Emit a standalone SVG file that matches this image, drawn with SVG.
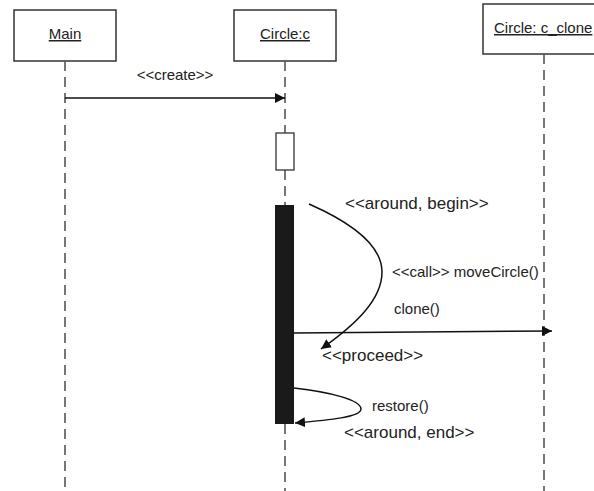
<svg xmlns="http://www.w3.org/2000/svg" width="594" height="491" viewBox="0 0 594 491">
<defs>
<style>
.box{fill:#fff;stroke:#333;stroke-width:1.5}
.life{stroke:#555;stroke-width:1.6;stroke-dasharray:10 6;fill:none}
.lbl{font-family:"Liberation Sans",Arial,sans-serif;font-size:15px;fill:#222}
.big{font-size:17px}
.name{text-decoration:underline}
.msg{stroke:#111;stroke-width:1.5;fill:none}
</style>
<marker id="ah" viewBox="0 0 10 10" refX="10" refY="5" markerWidth="10" markerHeight="10" markerUnits="userSpaceOnUse" orient="auto">
<path d="M0,0 L10,5 L0,10 z" fill="#111"/>
</marker>
</defs>
<rect width="594" height="491" fill="#fff"/>
<g id="main">
<rect class="box" x="14" y="10" width="102" height="51"/>
<text class="lbl name" x="65" y="39" text-anchor="middle">Main</text>
<line class="life" x1="65" y1="61" x2="65" y2="491"/>
</g>
<g id="circle_c">
<rect class="box" x="234" y="10" width="102" height="51"/>
<text class="lbl name" x="285" y="39" text-anchor="middle">Circle:c</text>
<line class="life" x1="285" y1="61" x2="285" y2="133"/>
<line class="life" x1="285" y1="170" x2="285" y2="205"/>
<line class="life" x1="285" y1="424" x2="285" y2="491"/>
<rect x="276" y="133" width="18" height="37" fill="#fff" stroke="#333" stroke-width="1.3"/>
<rect x="275" y="205" width="19" height="219" fill="#1a1a1a"/>
</g>
<g id="circle_c_clone">
<rect class="box" x="483" y="4" width="120" height="50"/>
<text class="lbl name" x="494" y="33">Circle: c_clone</text>
<line class="life" x1="544" y1="54" x2="544" y2="491"/>
</g>
<g id="connectors">
<line class="msg" x1="65" y1="98" x2="285" y2="98" marker-end="url(#ah)"/>
<text class="lbl" x="175" y="80" text-anchor="middle">&lt;&lt;create&gt;&gt;</text>
<path class="msg" d="M309,204 C350,222 382,245 382,272 C382,300 355,325 321,349" marker-end="url(#ah)"/>
<text class="lbl big" x="345" y="209">&lt;&lt;around, begin&gt;&gt;</text>
<text class="lbl" x="392" y="277">&lt;&lt;call&gt;&gt; moveCircle()</text>
<line class="msg" x1="294" y1="333" x2="552" y2="331" marker-end="url(#ah)"/>
<text class="lbl" x="394" y="314">clone()</text>
<text class="lbl big" x="322" y="361">&lt;&lt;proceed&gt;&gt;</text>
<path class="msg" d="M294,388 C330,392 361,400 361,409 C361,417 330,420 295,423" marker-end="url(#ah)"/>
<text class="lbl" x="372" y="411">restore()</text>
<text class="lbl big" x="344" y="438">&lt;&lt;around, end&gt;&gt;</text>
</g>
</svg>
